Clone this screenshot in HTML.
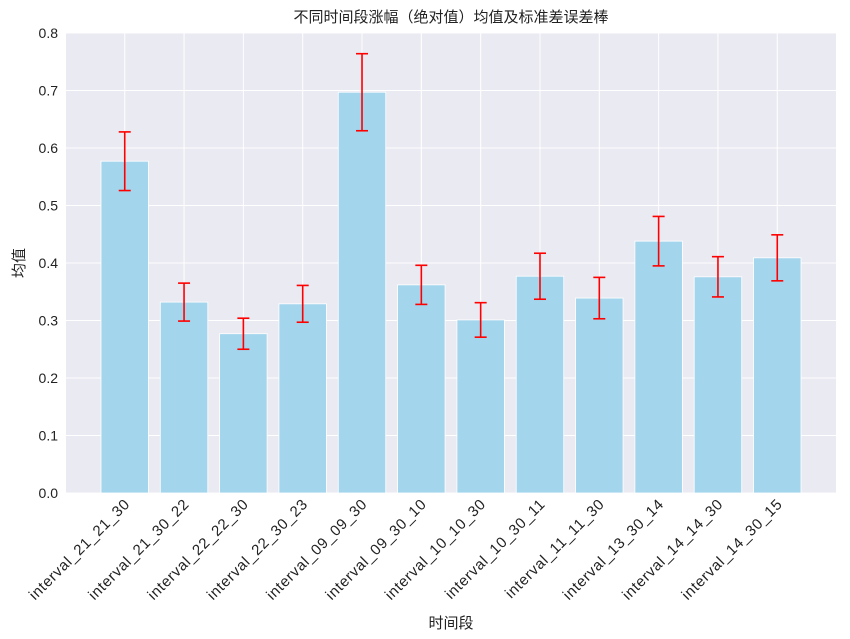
<!DOCTYPE html>
<html><head><meta charset="utf-8"><style>
body{margin:0;background:#fff;}
svg{display:block;font-family:"Liberation Sans","Noto Sans CJK SC",sans-serif;}
</style></head><body>
<svg id="chart" width="850" height="639" viewBox="0 0 850 639">
<rect x="66" y="33" width="770" height="460" fill="#eaeaf2"/>
<g id="grid"></g>
<g id="bars"></g>
<g id="errs"></g>
<g id="yticks"></g>
<g id="xticks"></g>
<text x="451" y="22" text-anchor="middle" font-size="15" fill="#222">不同时间段涨幅（绝对值）均值及标准差误差棒</text>
<text x="451" y="628" text-anchor="middle" font-size="15" fill="#222">时间段</text>
<text transform="translate(24,263) rotate(-90)" text-anchor="middle" font-size="15" fill="#222">均值</text>
</svg>
<script>
const categories=["interval_21_21_30","interval_21_30_22","interval_22_22_30","interval_22_30_23","interval_09_09_30","interval_09_30_10","interval_10_10_30","interval_10_30_11","interval_11_11_30","interval_13_30_14","interval_14_14_30","interval_14_30_15"];
const means=[0.577,0.332,0.277,0.329,0.697,0.362,0.301,0.377,0.339,0.438,0.376,0.409];
const stds=[0.051,0.033,0.027,0.032,0.067,0.034,0.030,0.040,0.036,0.043,0.035,0.040];
const yTicks=[0,0.1,0.2,0.3,0.4,0.5,0.6,0.7,0.8];
const NS="http://www.w3.org/2000/svg";
const L=66,R=836,T=33,B=493;
const n=categories.length;
const x0=-0.99,x1=n-1+0.99;
function xs(i){return L+(i-x0)/(x1-x0)*(R-L);}
function ys(v){return B-(v/0.8)*(B-T);}
const bw=0.8*(R-L)/(x1-x0);
function mk(t,a,p){const e=document.createElementNS(NS,t);for(const k in a)e.setAttribute(k,a[k]);p.appendChild(e);return e;}
const g=document.getElementById('grid'),bg=document.getElementById('bars'),eg=document.getElementById('errs'),yg=document.getElementById('yticks'),xg=document.getElementById('xticks');
yTicks.forEach(v=>{
 const l=mk('line',{x1:L,x2:R,y1:ys(v),y2:ys(v),stroke:'#fff','stroke-width':1},g);
 
 
 const t=mk('text',{x:L-8,y:ys(v)+5,'text-anchor':'end','font-size':14,fill:'#222'},yg);
 t.textContent=v.toFixed(1);
 
 
});
categories.forEach((c,i)=>{
 const cx=xs(i);
 const gl=mk('line',{x1:cx,x2:cx,y1:T,y2:B,stroke:'#fff','stroke-width':1},g);
 
 
 const r=mk('rect',{x:cx-bw/2,y:ys(means[i]),width:bw,height:B-ys(means[i]),fill:'#a3d5ed',stroke:'#fff','stroke-width':0.8},bg);
 
 
 const hi=ys(means[i]+stds[i]),lo=ys(means[i]-stds[i]);
 const eb=mk('g',{stroke:'#f00','stroke-width':1.6},eg);
 
 
 mk('line',{x1:cx,x2:cx,y1:hi,y2:lo},eb);
 mk('line',{x1:cx-6,x2:cx+6,y1:hi,y2:hi},eb);
 mk('line',{x1:cx-6,x2:cx+6,y1:lo,y2:lo},eb);
 const t=mk('text',{transform:`translate(${cx+6},${B+12}) rotate(-45)`,'text-anchor':'end','font-size':15,'letter-spacing':0.7,fill:'#222'},xg);
 t.textContent=c;
 
 
});
</script>
</body></html>
